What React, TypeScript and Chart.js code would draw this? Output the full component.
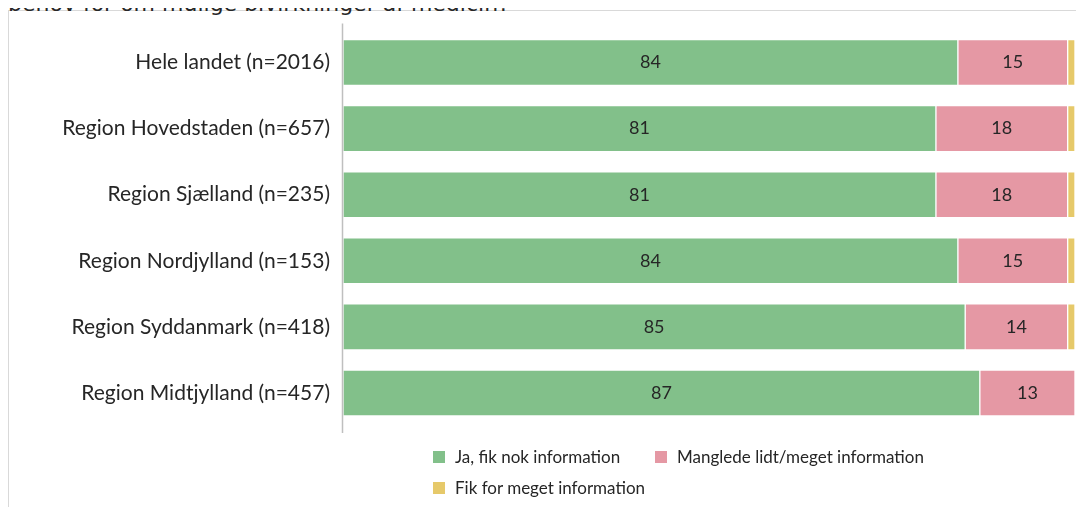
import React, { useEffect, useRef } from "react";
import { Chart, registerables } from "chart.js";

Chart.register(...registerables);

const titleText = "behov for om mulige bivirkninger af medicin?";
const categories = [
  "Hele landet (n=2016)",
  "Region Hovedstaden (n=657)",
  "Region Sjælland (n=235)",
  "Region Nordjylland (n=153)",
  "Region Syddanmark (n=418)",
  "Region Midtjylland (n=457)",
];
const seriesNames = [
  "Ja, fik nok information",
  "Manglede lidt/meget information",
  "Fik for meget information",
];
const jaValues = [84, 81, 81, 84, 85, 87];
const mangledeValues = [15, 18, 18, 15, 14, 13];
const forMegetValues = [1, 1, 1, 1, 1, 0];
const seriesColors = ["#82C08A", "#E598A4", "#E6C96A"];

const FONT = "Lato, 'Open Sans', sans-serif";

const valueLabelPlugin = {
  id: "valueLabels",
  afterDatasetsDraw(chart: any) {
    const ctx = chart.ctx;
    ctx.save();
    ctx.font = `18px ${FONT}`;
    ctx.fillStyle = "#262626";
    ctx.textAlign = "center";
    ctx.textBaseline = "middle";
    chart.data.datasets.forEach((ds: any, di: number) => {
      if (di === 2) return;
      const meta = chart.getDatasetMeta(di);
      meta.data.forEach((el: any, i: number) => {
        const v = ds.data[i];
        if (!v) return;
        const p = el.getCenterPoint();
        ctx.fillText(String(v), p.x, p.y);
      });
    });
    ctx.restore();
  },
};

const axisLinePlugin = {
  id: "axisLine",
  afterDraw(chart: any) {
    const { ctx, chartArea } = chart;
    ctx.save();
    ctx.strokeStyle = "#BFBFBF";
    ctx.lineWidth = 1.5;
    ctx.beginPath();
    ctx.moveTo(chartArea.left - 0.5, chartArea.top - 6);
    ctx.lineTo(chartArea.left - 0.5, chartArea.bottom + 7);
    ctx.stroke();
    ctx.restore();
  },
};

export default function App() {
  const canvasRef = useRef<HTMLCanvasElement | null>(null);

  useEffect(() => {
    document.body.style.overflow = "hidden";
    const chart = new Chart(canvasRef.current as HTMLCanvasElement, {
      type: "bar",
      data: {
        labels: categories,
        datasets: [jaValues, mangledeValues, forMegetValues].map((d, i) => ({
          label: seriesNames[i],
          data: d,
          backgroundColor: seriesColors[i],
          borderColor: "rgba(255,255,255,0.85)",
          borderWidth: 1,
          borderSkipped: false,
          barThickness: 46,
        })),
      },
      options: {
        indexAxis: "y",
        animation: false,
        responsive: false,
        maintainAspectRatio: false,
        layout: { padding: { top: 18.5, bottom: 81, right: 9, left: 0 } },
        plugins: {
          legend: { display: false },
          tooltip: { enabled: false },
          title: { display: false },
        },
        scales: {
          x: {
            stacked: true,
            display: false,
            min: 0,
            max: 100,
          },
          y: {
            stacked: true,
            grid: { display: false, drawTicks: false },
            border: { display: false },
            ticks: {
              color: "#262626",
              font: { family: FONT, size: 21 },
              padding: 13,
            },
            afterFit(scale: any) {
              scale.width = 334;
              scale.paddingTop = 0;
              scale.paddingBottom = 0;
            },
          },
        },
      },
      plugins: [valueLabelPlugin, axisLinePlugin],
    } as any);
    return () => chart.destroy();
  }, []);

  const legendPos = [
    { left: 424, top: 435 },
    { left: 646, top: 435 },
    { left: 424, top: 466 },
  ];

  return (
    <div
      style={{
        position: "relative",
        marginTop: 2,
        width: 1075,
        height: 496,
        borderLeft: "1px solid #D9D9D9",
        borderTop: "1px solid #D9D9D9",
      }}
    >
      <div
        style={{
          position: "absolute",
          left: -1,
          top: -18,
          fontFamily: "'DejaVu Sans', sans-serif",
          fontSize: 22,
          lineHeight: "22px",
          color: "#262626",
          whiteSpace: "nowrap",
        }}
      >
        {titleText}
      </div>
      <canvas
        ref={canvasRef}
        width={1075}
        height={496}
        style={{ position: "absolute", left: 0, top: 0, width: 1075, height: 496 }}
      />
      {seriesNames.map((name, i) => (
        <div
          key={name}
          style={{
            position: "absolute",
            left: legendPos[i].left,
            top: legendPos[i].top,
            display: "flex",
            alignItems: "center",
            fontFamily: FONT,
            fontSize: 17,
            color: "#262626",
            whiteSpace: "nowrap",
          }}
        >
          <span
            style={{
              display: "inline-block",
              width: 12,
              height: 12,
              background: seriesColors[i],
              marginRight: 10,
            }}
          />
          {name}
        </div>
      ))}
    </div>
  );
}
